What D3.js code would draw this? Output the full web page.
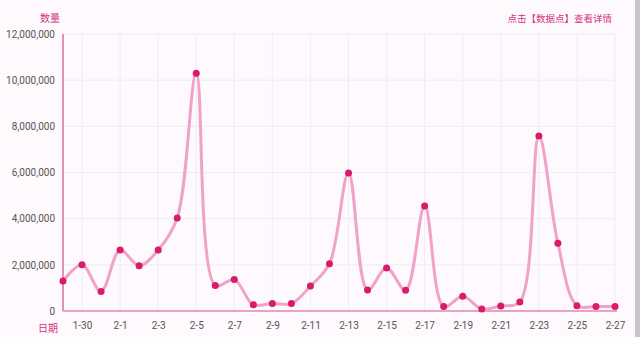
<!DOCTYPE html>
<html>
<head>
<meta charset="utf-8">
<script src="https://cdn.jsdelivr.net/npm/d3@7"></script>
<style>
body { margin: 0; background: #fdf9fc; }
#chart { width: 640px; height: 337px; }
</style>
</head>
<body>
<div id="chart"></div>
<script>
// data
var dates = ["1-29","1-30","1-31","2-1","2-2","2-3","2-4","2-5","2-6","2-7","2-8","2-9","2-10",
  "2-11","2-12","2-13","2-14","2-15","2-16","2-17","2-18","2-19","2-20","2-21","2-22","2-23",
  "2-24","2-25","2-26","2-27"];
var counts = [1300000,2000000,850000,2640000,1960000,2640000,4030000,10300000,1110000,1360000,
  270000,330000,320000,1080000,2050000,5980000,910000,1860000,900000,4550000,
  190000,640000,90000,220000,390000,7580000,2930000,230000,200000,200000];
var yTicks = [0,2000000,4000000,6000000,8000000,10000000,12000000];

var data = dates.map(function(d, i){ return {date: d, value: counts[i]}; });

var margin = {top: 34, right: 25, bottom: 26, left: 63};
var width = 640 - margin.left - margin.right;
var height = 337 - margin.top - margin.bottom;

var root = d3.select("#chart").append("svg")
  .attr("width", 640).attr("height", 337);

root.append("rect").attr("width", 640).attr("height", 337).attr("fill", "#fdf9fc");
// grey edge strip on the right of the screenshot
root.append("rect").attr("x", 635).attr("width", 5).attr("height", 337).attr("fill", "#c9c6c9");

var svg = root.append("g")
  .attr("transform", "translate(" + margin.left + "," + margin.top + ")");

var x = d3.scalePoint().domain(dates).range([0, width - 0]);
var y = d3.scaleLinear().domain([0, 12000000]).range([height, 0]);

// grid
svg.append("g").selectAll("line.h").data(yTicks.slice(1)).enter().append("line")
  .attr("x1", 0).attr("x2", x("2-27"))
  .attr("y1", function(d){ return y(d); }).attr("y2", function(d){ return y(d); })
  .attr("stroke", "#eeedf3").attr("stroke-width", 1);
svg.append("g").selectAll("line.v").data(dates.filter(function(d, i){ return i % 2 == 1; }))
  .enter().append("line")
  .attr("x1", function(d){ return x(d); }).attr("x2", function(d){ return x(d); })
  .attr("y1", 0).attr("y2", height)
  .attr("stroke", "#eeedf3").attr("stroke-width", 1);

// y axis
var yAxis = svg.append("g")
  .call(d3.axisLeft(y).tickValues(yTicks).tickSize(0).tickPadding(8)
    .tickFormat(d3.format(",")));
yAxis.select(".domain").remove();
yAxis.selectAll("text").style("font-family", "Roboto, 'Noto Sans', sans-serif")
  .style("font-size", "10px").attr("fill", "#555");

// x axis
var xAxis = svg.append("g")
  .attr("transform", "translate(0," + height + ")")
  .call(d3.axisBottom(x).tickValues(dates.filter(function(d, i){ return i % 2 == 1; }))
    .tickSize(0).tickPadding(11));
xAxis.select(".domain").remove();
xAxis.selectAll("text").style("font-family", "Roboto, 'Noto Sans', sans-serif")
  .style("font-size", "10px").attr("fill", "#555")
  .text(function(d){ return d.replace("-", "-"); });

// axis lines
svg.append("line").attr("x1", 0).attr("x2", x("2-27") + 2).attr("y1", height).attr("y2", height)
  .attr("stroke", "#e087ad").attr("stroke-width", 1.5);
svg.append("line").attr("x1", 0).attr("x2", 0).attr("y1", 0).attr("y2", height)
  .attr("stroke", "#e391b5").attr("stroke-width", 2);

// line
var line = d3.line()
  .x(function(d){ return x(d.date); })
  .y(function(d){ return y(d.value); })
  .curve(d3.curveCatmullRom.alpha(0.5));

svg.append("path").datum(data)
  .attr("fill", "none")
  .attr("stroke", "#f0a3c8")
  .attr("stroke-width", 3)
  .attr("d", line);

svg.selectAll("circle").data(data).enter().append("circle")
  .attr("cx", function(d){ return x(d.date); })
  .attr("cy", function(d){ return y(d.value); })
  .attr("r", 3.5)
  .attr("fill", "#d81b6a");

// labels
root.append("text").attr("x", 50).attr("y", 22).attr("text-anchor", "middle")
  .style("font-family", "'Noto Sans CJK SC', sans-serif").style("font-size", "10px")
  .attr("fill", "#d6337f").text("数量");
root.append("text").attr("x", 48).attr("y", 332).attr("text-anchor", "middle")
  .style("font-family", "'Noto Sans CJK SC', sans-serif").style("font-size", "10px")
  .attr("fill", "#d6337f").text("日期");
root.append("text").attr("x", 612).attr("y", 22).attr("text-anchor", "end")
  .style("font-family", "'Noto Sans CJK SC', sans-serif").style("font-size", "9.5px")
  .attr("fill", "#d6337f").text("点击【数据点】查看详情");
</script>
</body>
</html>
